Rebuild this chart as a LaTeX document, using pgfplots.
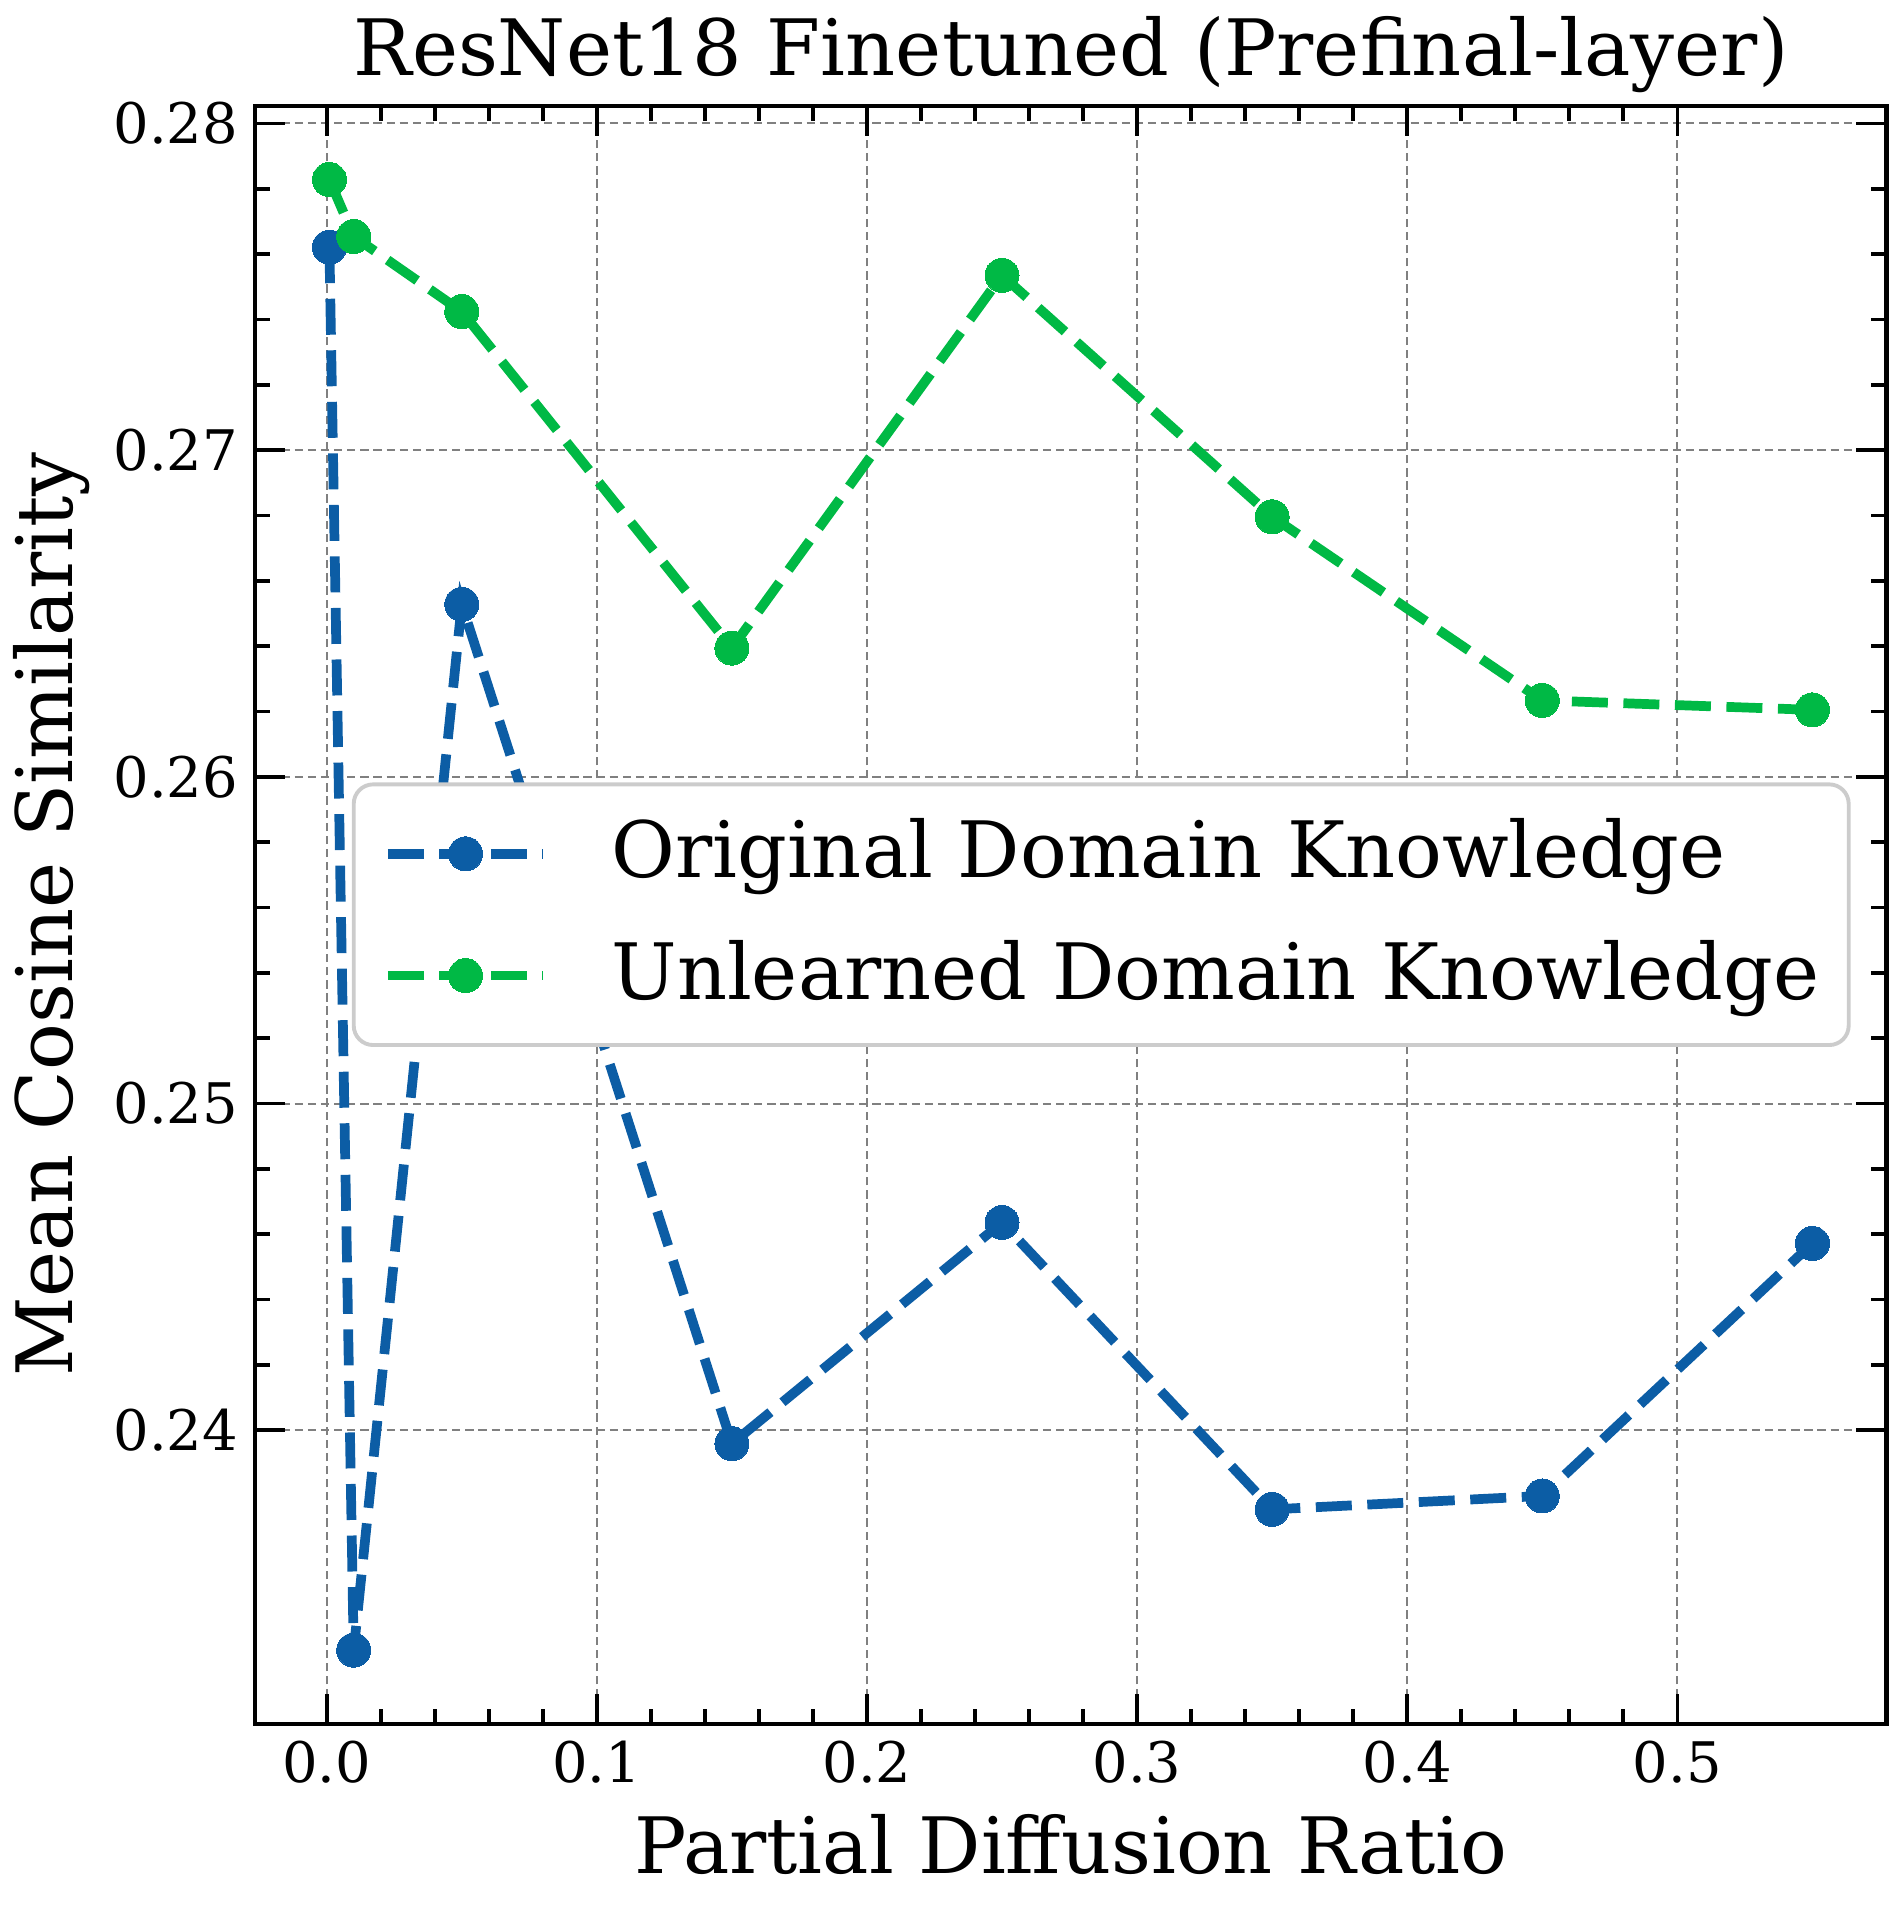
\documentclass[border=0pt]{standalone}
\usepackage{fontspec}
\setmainfont{DejaVu Serif}
\usepackage{pgfplots}
\pgfplotsset{compat=1.18}
\definecolor{cblue}{HTML}{0C5DA5}
\definecolor{cgreen}{HTML}{00B945}
\definecolor{legedge}{HTML}{CCCCCC}
\begin{document}
\begin{tikzpicture}
\begin{axis}[
  scale only axis, width=335.5pt, height=332.75pt,
  xmin=-0.02645, xmax=0.57745, ymin=0.23102, ymax=0.28054,
  xtick={0,0.1,0.2,0.3,0.4,0.5},
  ytick={0.24,0.25,0.26,0.27,0.28},
  minor x tick num=4, minor y tick num=4,
  scaled x ticks=false, scaled y ticks=false,
  tick align=inside, major tick length=6.2pt, minor tick length=3.1pt,
  tick style={black, line width=0.75pt},
  axis line style={line width=0.85pt},
  grid=major, major grid style={gray, line width=0.4pt, dash pattern=on 1.7pt off 1pt},
  /pgf/number format/assume math mode=true,
  xticklabel style={font=\fontsize{11.5}{13}\selectfont, /pgf/number format/.cd, fixed, fixed zerofill, precision=1},
  yticklabel style={font=\fontsize{11.5}{13}\selectfont, /pgf/number format/.cd, fixed, fixed zerofill, precision=2},
  every axis title shift=0pt,
  title={ResNet18 Finetuned (Prefinal-layer)},
  title style={font=\fontsize{16}{19}\selectfont, at={(axis description cs:0.5,1.0184)}, anchor=base, yshift=0pt, inner sep=0pt},
  xlabel={Partial Diffusion Ratio},
  xlabel style={font=\fontsize{16}{19}\selectfont, at={(axis description cs:0.5,-0.0924)}, anchor=base, inner sep=0pt},
  ylabel={Mean Cosine Similarity},
  ylabel style={font=\fontsize{16}{19}\selectfont, at={(axis description cs:-0.1006,0.5)}, anchor=south, inner sep=0pt},
  legend style={at={(0.978,0.5)}, anchor=east, draw=legedge, line width=0.8pt,
    rounded corners=4pt, fill=white,
    font=\fontsize{16}{19}\selectfont, inner xsep=6pt, inner ysep=7pt,
    nodes={inner sep=0pt, text depth=0.24em}, row sep=10.5pt},
  legend cell align=left,
  /tikz/every odd column/.append style={column sep=13pt},
  legend image code/.code={\draw[mark repeat=2,mark phase=2,#1] plot coordinates {(0pt,0pt) (16pt,0pt) (32pt,0pt)};},
]
\addplot[cblue, line width=2pt, dash pattern=on 7.4pt off 3.2pt, mark=*, mark size=3.5pt, mark options={solid, fill=cblue, draw=cblue, line width=0pt}]
 coordinates {(0.001,0.27621) (0.01,0.23327) (0.05,0.26528) (0.15,0.23959) (0.25,0.24636) (0.35,0.23758) (0.45,0.23799) (0.55,0.24572)};
\addlegendentry{Original Domain Knowledge}
\addplot[cgreen, line width=2pt, dash pattern=on 7.4pt off 3.2pt, mark=*, mark size=3.5pt, mark options={solid, fill=cgreen, draw=cgreen, line width=0pt}]
 coordinates {(0.001,0.27828) (0.01,0.27654) (0.05,0.27424) (0.15,0.26394) (0.25,0.27535) (0.35,0.26796) (0.45,0.26234) (0.55,0.26205)};
\addlegendentry{Unlearned Domain Knowledge}
\end{axis}
\path (current axis.south west) ++(-52.5pt,-37.5pt) rectangle ([xshift=3.5pt,yshift=21.75pt]current axis.north east);
\end{tikzpicture}
\end{document}
